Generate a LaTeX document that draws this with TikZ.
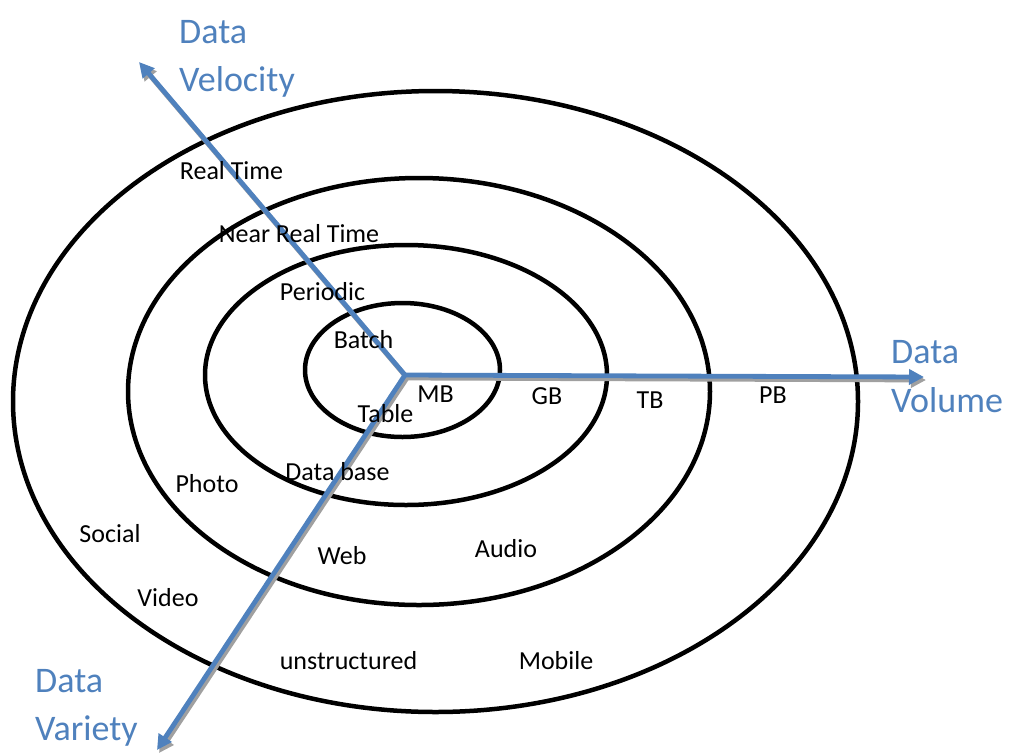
\documentclass[tikz,border=0pt]{standalone}
\usepackage{fontspec}
\setmainfont{Carlito}
\usetikzlibrary{arrows.meta}
\definecolor{axisblue}{HTML}{4F81BD}
\definecolor{shadowgray}{HTML}{A0A0A0}
\tikzset{
  ring/.style={draw=black, line width=4.5pt},
  axisline/.style={draw=axisblue, line width=4.8pt, -{Triangle[length=15pt,width=15pt]}},
  axisshadow/.style={draw=shadowgray, line width=4.8pt, -{Triangle[length=15pt,width=15pt]}, transform canvas={xshift=2pt,yshift=-3pt}},
  lbl/.style={font=\fontsize{26}{30}\selectfont, text=black, inner sep=0pt, anchor=base},
  axislbl/.style={font=\fontsize{36}{43}\selectfont, text=axisblue, inner sep=0pt, anchor=base west}
}
\begin{document}
\begin{tikzpicture}[x=1pt,y=-1pt]
\useasboundingbox (0,0) rectangle (1011,753);
% rings
\draw[ring] (435.5,401.5) ellipse [x radius=422.5pt, y radius=310.5pt];
\draw[ring] (419,391.5) ellipse [x radius=291pt, y radius=213.5pt];
\draw[ring] (406,375) ellipse [x radius=201pt, y radius=130pt];
\draw[ring] (402.5,370) ellipse [x radius=97.5pt, y radius=67pt];
% axes
\coordinate (O) at (405,375);
\coordinate (tvel) at (139,62);
\coordinate (tvol) at (924,377);
\coordinate (tvar) at (157,750);
\draw[axisshadow] (O) -- (tvel);
\draw[axisshadow] (O) -- (tvol);
\draw[axisshadow] (O) -- (tvar);
\draw[axisline] (O) -- (tvel);
\draw[axisline] (O) -- (tvol);
\draw[axisline] (O) -- (tvar);
% axis labels
\node[axislbl] (velA) at (179,43) {Data};
\node[axislbl] (velB) at (179,91) {Velocity};
\node[axislbl] (volA) at (891,363) {Data};
\node[axislbl] (volB) at (891,412) {Volume};
\node[axislbl] (varA) at (35,692) {Data};
\node[axislbl] (varB) at (35,740) {Variety};
% ring labels
\node[lbl] (rt) at (231.5,179) {Real Time};
\node[lbl] (nrt) at (299,242) {Near Real Time};
\node[lbl] (per) at (322.5,300) {Periodic};
\node[lbl] (bat) at (363.5,348) {Batch};
\node[lbl] (mb) at (435.5,402) {MB};
\node[lbl] (gb) at (547,404) {GB};
\node[lbl] (tb) at (650,408) {TB};
\node[lbl] (pb) at (773,403) {PB};
\node[lbl] (tab) at (385.5,422) {Table};
\node[lbl] (db) at (337.5,480) {Data base};
\node[lbl] (pho) at (207,492) {Photo};
\node[lbl] (soc) at (110,542) {Social};
\node[lbl] (web) at (342,564) {Web};
\node[lbl] (aud) at (506,557) {Audio};
\node[lbl] (vid) at (168,606) {Video};
\node[lbl] (uns) at (348.5,669) {unstructured};
\node[lbl] (mob) at (556,669) {Mobile};
\end{tikzpicture}
\end{document}
